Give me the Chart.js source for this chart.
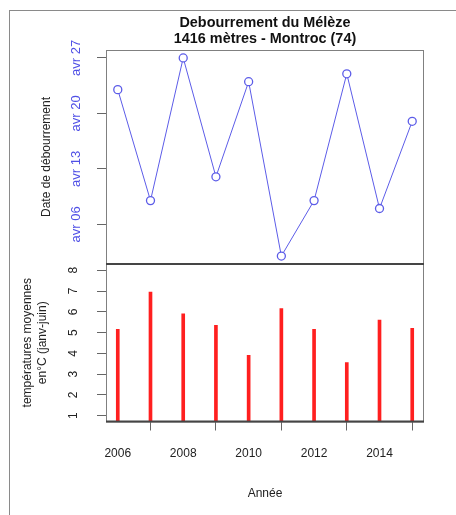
<!DOCTYPE html>
<html>
<head>
<meta charset="utf-8">
<script src="https://cdn.jsdelivr.net/npm/chart.js@4"></script>
<style>
  body { margin: 0; background: #fff; }
  #page { position: relative; width: 456px; height: 515px; overflow: hidden; background: #fff; }
  #cadre { position: absolute; left: 9px; top: 10px; right: 0; bottom: 0; border-top: 1px solid #8a8a8a; border-left: 1px solid #8a8a8a; }
  #haut { position: absolute; left: 0; top: 0; }
  #bas { position: absolute; left: 0; top: 250px; }
</style>
</head>
<body>
<div id="page">
  <div id="cadre"></div>
  <canvas id="haut" width="456" height="276"></canvas>
  <canvas id="bas" width="456" height="265"></canvas>
</div>
<script>
// --- données ---
const annees = [2006, 2007, 2008, 2009, 2010, 2011, 2012, 2013, 2014, 2015];
const debourrement = [23, 9, 27, 12, 24, 2, 9, 25, 8, 19]; // jour d'avril
const temperatures = [5.15, 6.95, 5.9, 5.35, 3.9, 6.15, 5.15, 3.55, 5.6, 5.2]; // °C moyens janv-juin
const ticksJour = [6, 13, 20, 27];
const labelsJour = ["avr 06", "avr 13", "avr 20", "avr 27"];
const ticksTemp = [1, 2, 3, 4, 5, 6, 7, 8];
const ticksAnnee = [2006, 2008, 2010, 2012, 2014];

Chart.defaults.font.family = "'Liberation Sans', Arial, sans-serif";
Chart.defaults.color = "#222";
Chart.defaults.animation = false;

const bleu = "#5c5ce8";
const rouge = "#ff1f1f";

// cadre autour de la zone de tracé (comme box() en R)
const cadre = {
  id: "cadre",
  afterDraw(chart, args, opts) {
    const { ctx, chartArea: a } = chart;
    ctx.save();
    ctx.strokeStyle = "#808080";
    ctx.lineWidth = 1;
    ctx.strokeRect(a.left + 0.5, a.top + 0.5, a.right - a.left - 1, a.bottom - a.top);
    ctx.strokeStyle = "#454545";
    ctx.lineWidth = 2;
    ctx.beginPath();
    if (opts.haut) { ctx.moveTo(a.left, a.top); ctx.lineTo(a.right, a.top); }
    if (opts.bas) { ctx.moveTo(a.left, a.bottom); ctx.lineTo(a.right, a.bottom); }
    ctx.stroke();
    ctx.restore();
  }
};

const xCommun = {
  type: "linear",
  min: 2005.64,
  max: 2015.36,
  offset: false
};

function largeurAxe(w) {
  return s => { s.width = w; s.paddingTop = 0; s.paddingBottom = 0; };
}

// --- graphique du haut : date de débourrement ---
new Chart(document.getElementById("haut"), {
  type: "line",
  data: {
    datasets: [{
      data: annees.map((a, i) => ({ x: a, y: debourrement[i] })),
      borderColor: bleu,
      borderWidth: 1,
      pointRadius: 4,
      pointBorderWidth: 1.3,
      pointBorderColor: bleu,
      pointBackgroundColor: "#fff",
      tension: 0
    }]
  },
  options: {
    responsive: false,
    layout: { padding: { left: 0, right: 32, top: 0, bottom: 12 } },
    plugins: {
      legend: { display: false },
      tooltip: { enabled: false },
      title: {
        display: true,
        fullSize: false,
        text: ["Debourrement du Mélèze", "1416 mètres - Montroc (74)"],
        color: "#111",
        font: { size: 14.4, weight: "bold", lineHeight: "16.5px" },
        padding: { top: 14.5, bottom: 2.5 }
      },
      cadre: { haut: false, bas: true }
    },
    scales: {
      x: Object.assign({ display: false }, xCommun),
      y: {
        min: 1,
        max: 28,
        afterBuildTicks: s => { s.ticks = ticksJour.map(v => ({ value: v })); },
        afterFit: largeurAxe(106),
        border: { display: false },
        grid: { drawOnChartArea: false, drawTicks: true, tickLength: 9, color: "#666" },
        ticks: {
          minRotation: 90,
          maxRotation: 90,
          crossAlign: "center",
          padding: 3,
          color: "#5050e6",
          font: { size: 13 },
          callback: v => labelsJour[ticksJour.indexOf(v)]
        },
        title: {
          display: true,
          text: "Date de débourrement",
          color: "#222",
          font: { size: 12, lineHeight: "15px" },
          padding: { top: 39, bottom: 0 }
        }
      }
    }
  },
  plugins: [cadre]
});

// --- graphique du bas : températures ---
new Chart(document.getElementById("bas"), {
  type: "bar",
  data: {
    datasets: [{
      data: annees.map((a, i) => ({ x: a, y: temperatures[i] })),
      backgroundColor: rouge,
      barThickness: 3,
      clip: 0
    }]
  },
  options: {
    responsive: false,
    layout: { padding: { left: 0, right: 32, top: 14, bottom: 13.5 } },
    plugins: {
      legend: { display: false },
      tooltip: { enabled: false },
      cadre: { haut: true, bas: true }
    },
    scales: {
      x: Object.assign({
        afterBuildTicks: s => { s.ticks = ticksAnnee.map(v => ({ value: v })); },
        afterFit: s => { s.height = 80; },
        border: { display: false },
        grid: { drawOnChartArea: false, drawTicks: true, tickLength: 9, color: "#666" },
        ticks: {
          padding: 16,
          maxRotation: 0,
          color: "#222",
          font: { size: 12 },
          callback: v => String(v)
        },
        title: {
          display: true,
          text: "Année",
          color: "#222",
          font: { size: 12, lineHeight: "15px" },
          padding: { top: 0, bottom: 0.5 }
        }
      }, xCommun),
      y: {
        min: 0.72,
        max: 8.3,
        afterBuildTicks: s => { s.ticks = ticksTemp.map(v => ({ value: v })); },
        afterFit: largeurAxe(106),
        border: { display: false },
        grid: { drawOnChartArea: false, drawTicks: true, tickLength: 9, color: "#666" },
        ticks: {
          minRotation: 90,
          maxRotation: 90,
          crossAlign: "center",
          padding: 20,
          color: "#222",
          font: { size: 12 },
          callback: v => String(v)
        },
        title: {
          display: true,
          text: ["températures moyennes", "en°C (janv-juin)"],
          color: "#222",
          font: { size: 12, lineHeight: "15px" },
          padding: { top: 20.5, bottom: 0 }
        }
      }
    }
  },
  plugins: [cadre]
});
</script>
</body>
</html>
